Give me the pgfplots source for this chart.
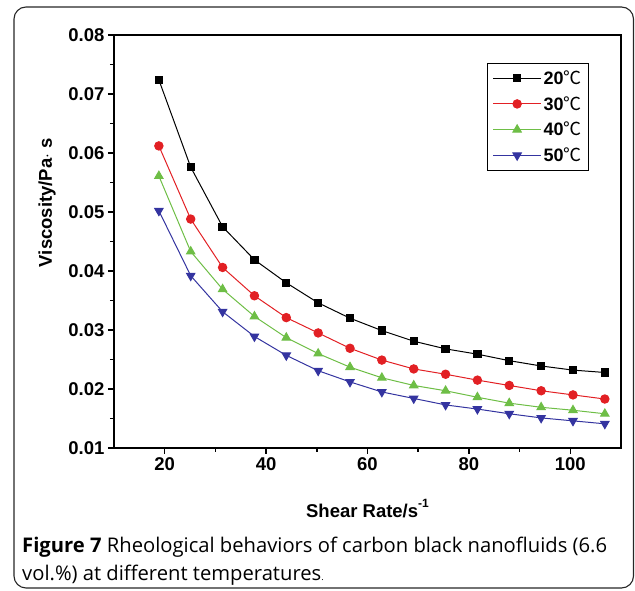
\documentclass[border=0pt]{standalone}
\usepackage{fontspec}
\setmainfont{Liberation Sans}
\newfontfamily\capfont{Open Sans}
\newfontfamily\cjk{Noto Sans CJK SC}
\usepackage{pgfplots}
\pgfplotsset{compat=1.18}
\definecolor{cred}{RGB}{226,32,36}
\definecolor{cgreen}{RGB}{110,190,70}
\definecolor{cblue}{RGB}{52,52,160}
\newcommand{\tempC}[1]{\textbf{#1}{\cjk ℃}}
\begin{document}
\begin{tikzpicture}
\useasboundingbox (0,0) rectangle (635pt,591pt);
\draw[line width=1.1pt, black!85, rounded corners=12pt] (14pt,3pt) rectangle (633.5pt,584pt);
\begin{axis}[
  at={(114pt,143pt)}, anchor=south west,
  width=507pt, height=413pt, scale only axis,
  xmin=10, xmax=110, ymin=0.01, ymax=0.08,
  xtick={20,40,60,80,100}, minor x tick num=1,
  ytick={0.01,0.02,0.03,0.04,0.05,0.06,0.07,0.08}, minor y tick num=1,
  xtick pos=bottom, ytick pos=left, tick align=outside,
  major tick length=6pt, minor tick length=4pt,
  axis line style={line width=2pt},
  every tick/.style={line width=1.6pt, black},
  /pgf/number format/assume math mode=true,
  ticklabel style={font=\fontsize{18.5}{18.5}\selectfont\bfseries},
  yticklabel style={/pgf/number format/fixed, /pgf/number format/precision=2, /pgf/number format/fixed zerofill},
  scaled y ticks=false,
  xlabel={Shear Rate/s\raisebox{1.1ex}{\fontsize{12}{12}\selectfont -1}},
  ylabel={Viscosity/Pa$\cdot$ s},
  label style={font=\fontsize{18.5}{18.5}\selectfont\bfseries},
  xlabel style={at={(axis description cs:0.5,-0.1695)}, anchor=base},
  ylabel style={at={(axis description cs:-0.108,0.594)}, anchor=south},
  legend style={at={(0.736,0.932)}, anchor=north west, draw=black, line width=1pt,
    font=\fontsize{18}{18}\selectfont, row sep=6.5pt, inner sep=5pt,
    legend cell align=left},
  legend image code/.code={\draw[mark repeat=2,mark phase=2] plot coordinates {(0pt,0pt) (24pt,0pt) (48pt,0pt)};},
  every axis plot/.append style={line width=1pt},
]
\addplot[black, mark=square*, mark size=3.6pt, mark options={solid}] coordinates {
(18.85,0.0724) (25.13,0.0576) (31.42,0.0475) (37.70,0.0419) (43.98,0.0380)
(50.27,0.0346) (56.55,0.0320) (62.83,0.0299) (69.12,0.0281) (75.40,0.0268)
(81.68,0.0259) (87.96,0.0248) (94.25,0.0239) (100.53,0.0232) (106.81,0.0228)};
\addlegendentry{\tempC{20}}
\addplot[cred, mark=*, mark size=4.2pt] coordinates {
(18.85,0.0612) (25.13,0.0488) (31.42,0.0406) (37.70,0.0358) (43.98,0.0321)
(50.27,0.0295) (56.55,0.0269) (62.83,0.0249) (69.12,0.0234) (75.40,0.0225)
(81.68,0.0215) (87.96,0.0206) (94.25,0.0197) (100.53,0.0190) (106.81,0.0183)};
\addlegendentry{\tempC{30}}
\addplot[cgreen, mark=triangle*, mark size=4.8pt] coordinates {
(18.85,0.0561) (25.13,0.0433) (31.42,0.0369) (37.70,0.0323) (43.98,0.0287)
(50.27,0.0260) (56.55,0.0237) (62.83,0.0219) (69.12,0.0206) (75.40,0.0197)
(81.68,0.0186) (87.96,0.0176) (94.25,0.0169) (100.53,0.0164) (106.81,0.0158)};
\addlegendentry{\tempC{40}}
\addplot[cblue, mark=triangle*, mark size=4.8pt, mark options={rotate=180}] coordinates {
(18.85,0.0502) (25.13,0.0392) (31.42,0.0331) (37.70,0.0289) (43.98,0.0257)
(50.27,0.0231) (56.55,0.0212) (62.83,0.0195) (69.12,0.0184) (75.40,0.0173)
(81.68,0.0166) (87.96,0.0158) (94.25,0.0151) (100.53,0.0146) (106.81,0.0141)};
\addlegendentry{\tempC{50}}
\end{axis}
\node[anchor=base west, font=\capfont\fontsize{20.2}{20.2}\selectfont, inner sep=0pt] at (22pt,38pt)
  {\textbf{Figure 7} Rheological behaviors of carbon black nanofluids (6.6};
\node[anchor=base west, font=\capfont\fontsize{20.2}{20.2}\selectfont, inner sep=0pt] at (22pt,10pt)
  {vol.\%) at different temperatures{\fontsize{9}{9}\selectfont.}};
\end{tikzpicture}
\end{document}
